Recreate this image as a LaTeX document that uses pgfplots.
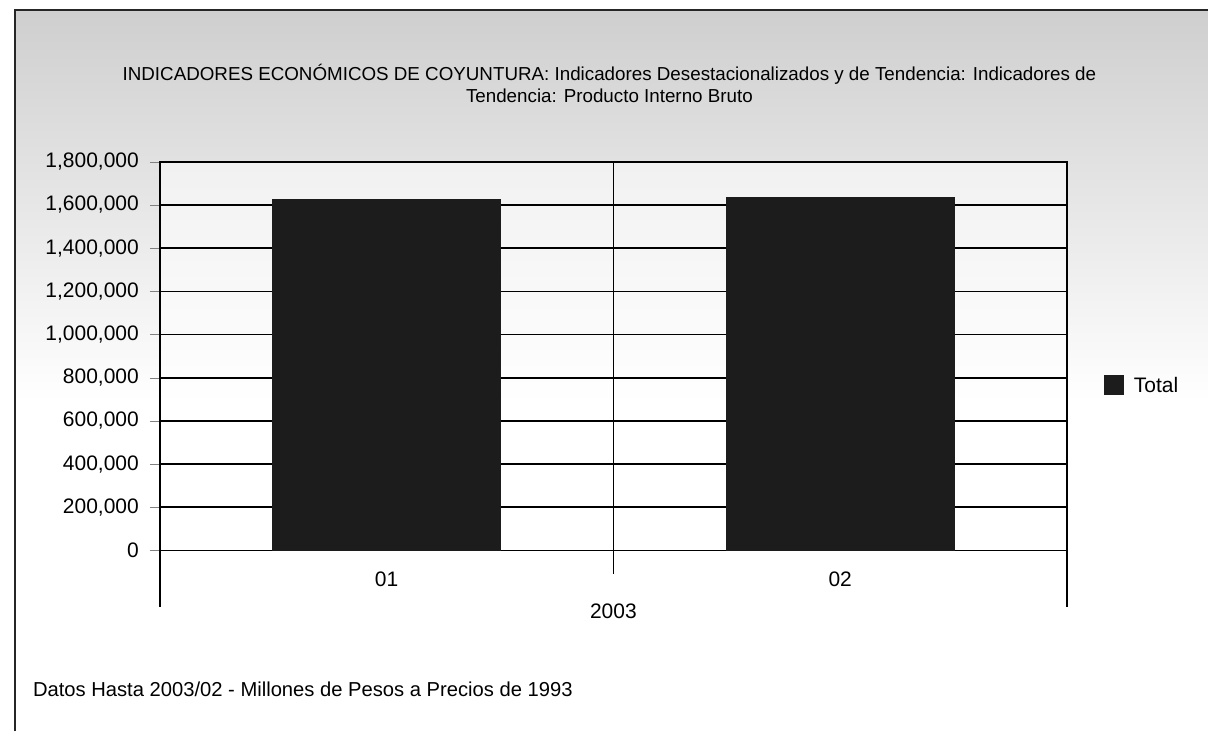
\documentclass[border=0pt]{standalone}
\usepackage{pgfplots}
\pgfplotsset{compat=1.18}
\usepackage{fontspec}
\setmainfont{Liberation Sans}

\definecolor{barfill}{HTML}{1C1C1C}

\begin{document}
\begin{tikzpicture}[x=0.5pt,y=0.5pt]
% page frame, in pixels of the reference (y counted up from the bottom)
\path (0,0) rectangle (1209,732);
\shade[top color=gray!38, bottom color=white] (15,722) rectangle (1209,330);
\draw[line width=1.2pt, black!85] (15,0) -- (15,722) -- (1209,722);

\node[font=\fontsize{9.4}{11}\selectfont, align=center] at (610,648)
  {INDICADORES ECONÓMICOS DE COYUNTURA: Indicadores Desestacionalizados y de Tendencia: Indicadores de\\
   Tendencia: Producto Interno Bruto};

\begin{axis}[
    at={(80pt,90.5pt)}, anchor=south west,
    scale only axis, width=454pt, height=194.5pt,
    xmin=-0.5, xmax=1.5,
    ymin=0, ymax=1800000,
    ytick={0,200000,...,1800000},
    xtick={0,1}, xticklabels={01,02},
    major x tick style={draw=none},
    xticklabel style={yshift=-2pt},
    ytick pos=left, tick align=outside,
    major tick length=5pt,
    ymajorgrids, grid style={black, line width=0.8pt},
    axis line style={black, line width=0.8pt},
    axis background/.style={fill=white, fill opacity=0.55},
    scaled y ticks=false,
    yticklabel style={xshift=-2pt, /pgf/number format/fixed, /pgf/number format/1000 sep={,}},
    /pgf/number format/assume math mode=true,
    tick label style={font=\fontsize{10.5}{12}\selectfont},
    ybar, bar width=114pt,
    clip=false,
]
\addplot[fill=barfill, draw=barfill] coordinates {(0,1625000) (1,1636000)};
\draw[black, line width=0.8pt] (axis cs:0.5,0) -- (axis cs:0.5,1800000);
\draw[black, line width=0.8pt] (axis cs:0.5,0) -- ++(0pt,-12pt);
\draw[black, line width=0.8pt] (axis cs:-0.5,0) -- ++(0pt,-28.5pt);
\draw[black, line width=0.8pt] (axis cs:1.5,0) -- ++(0pt,-28.5pt);
\end{axis}

\node[font=\fontsize{10.5}{12}\selectfont] at (614,120) {2003};

% legend
\fill[barfill] (1105,337) rectangle (1125,357);
\node[font=\fontsize{10.5}{12}\selectfont, anchor=west] at (1128,347) {Total};

\node[font=\fontsize{10.1}{12}\selectfont, anchor=west] at (26,42)
  {Datos Hasta 2003/02 - Millones de Pesos a Precios de 1993};
\end{tikzpicture}
\end{document}
